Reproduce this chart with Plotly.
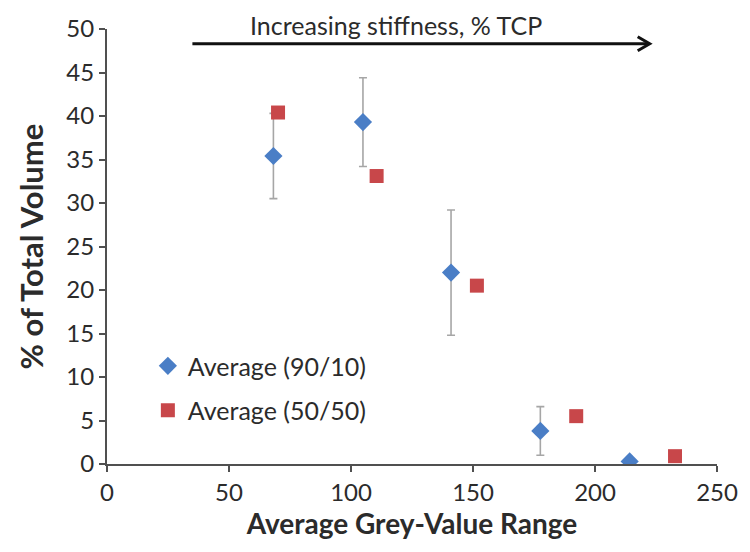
import plotly.graph_objects as go

# Data
x_9010 = [68.2, 104.9, 141.0, 177.6, 214.2]
y_9010 = [35.4, 39.3, 22.0, 3.8, 0.3]
err_9010 = [4.9, 5.1, 7.2, 2.8, 0.0]

x_5050 = [70.1, 110.5, 151.6, 192.3, 232.8]
y_5050 = [40.4, 33.1, 20.5, 5.5, 0.9]

arrow_x = [35, 222]
arrow_y = 48.3
arrow_label = "Increasing stiffness, % TCP"
arrow_label_x = 118.6

FONT = "Lato"
AX = "#505050"
TXT = "#2b2b2b"

fig = go.Figure()
fig.add_trace(go.Scatter(
    x=x_9010, y=y_9010, mode="markers", name="Average (90/10)",
    marker=dict(symbol="diamond", size=14, color="#4A7EC6"),
    error_y=dict(type="data", array=err_9010, color="#A6A6A6", thickness=1.6, width=4),
    legendgroup="a",
))
fig.add_trace(go.Scatter(
    x=x_5050, y=y_5050, mode="markers", name="Average (50/50)",
    marker=dict(symbol="square", size=14, color="#C8474A"),
    legendgroup="b",
))

# arrow shaft
fig.add_shape(type="line", xref="x", yref="y",
              x0=arrow_x[0], x1=arrow_x[1], y0=arrow_y, y1=arrow_y,
              line=dict(color="#111111", width=3))
# open chevron head (pixel sized, anchored at arrow end)
fig.add_shape(type="path", xref="x", yref="y",
              xsizemode="pixel", ysizemode="pixel",
              xanchor=arrow_x[1], yanchor=arrow_y,
              path="M -11,7 L 1,0 L -11,-7",
              line=dict(color="#111111", width=3))
fig.add_annotation(
    x=arrow_label_x, y=arrow_y, xref="x", yref="y",
    text=arrow_label, showarrow=False, yanchor="bottom", yshift=2,
    font=dict(family=FONT, size=25, color=TXT),
)

fig.update_layout(
    width=750, height=552,
    margin=dict(l=107, r=25, t=29, b=88),
    paper_bgcolor="white", plot_bgcolor="white",
    font=dict(family=FONT, size=24, color=TXT),
    showlegend=True,
    legend=dict(x=0.067, y=0.278, xanchor="left", yanchor="top",
                font=dict(family=FONT, size=25, color=TXT),
                tracegroupgap=9, traceorder="grouped", bgcolor="rgba(0,0,0,0)"),
    xaxis=dict(range=[0, 250], tickvals=[0, 50, 100, 150, 200, 250],
               showgrid=False, zeroline=False, showline=True, linecolor=AX, linewidth=2,
               ticks="outside", ticklen=6, tickwidth=2, tickcolor=AX,
               title=dict(text="<b>Average Grey-Value Range</b>", font=dict(size=28, color=TXT), standoff=8),
               tickfont=dict(size=24)),
    yaxis=dict(range=[0, 50], tickvals=list(range(0, 51, 5)),
               showgrid=False, zeroline=False, showline=True, linecolor=AX, linewidth=2,
               ticks="outside", ticklen=6, tickwidth=2, tickcolor=AX, ticksuffix="&nbsp;",
               title=dict(text="<b>% of Total Volume</b>", font=dict(size=31, color=TXT), standoff=14),
               tickfont=dict(size=24)),
)

fig.write_html("out.html")
